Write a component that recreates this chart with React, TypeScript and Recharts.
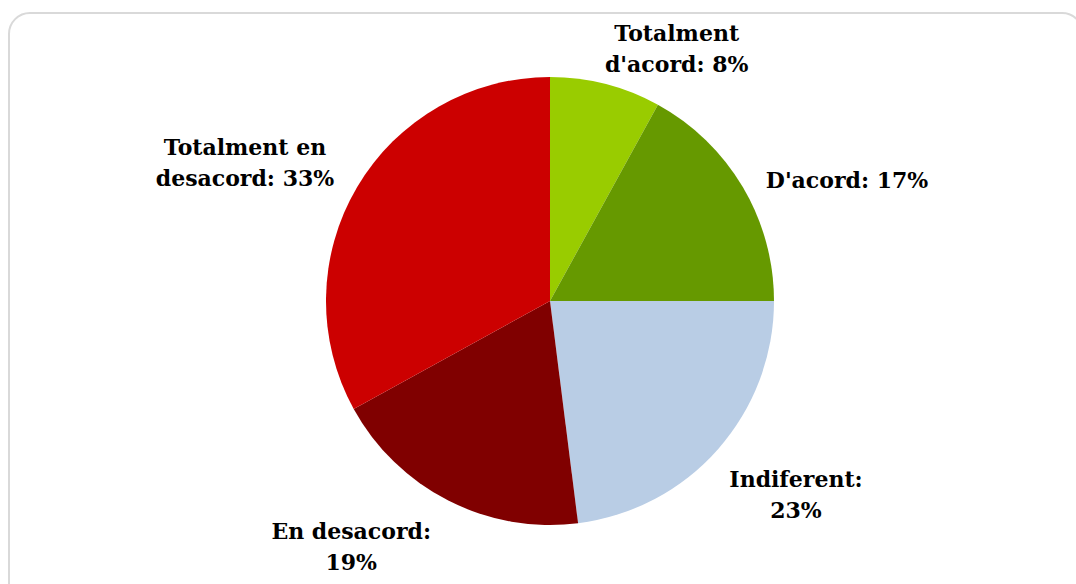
import { PieChart, Pie, Cell } from 'recharts';

const categories = ["Totalment d'acord", "D'acord", 'Indiferent', 'En desacord', 'Totalment en desacord'];
const shares = [8, 17, 23, 19, 33];
const colors = ['#99cc00', '#669900', '#b9cde5', '#800000', '#cc0000'];
const labelLines = [
  ['Totalment', "d'acord: 8%"],
  ["D'acord: 17%"],
  ['Indiferent:', '23%'],
  ['En desacord:', '19%'],
  ['Totalment en', 'desacord: 33%'],
];

const data = categories.map((name, i) => ({ name, value: shares[i] }));

// Excel-style placement: offset of each label block from the point just outside the slice
const LABEL_SHIFT = [
  [66, -16],
  [87, 3],
  [63, 32],
  [-88, 28],
  [-95, -14],
];

const RADIAN = Math.PI / 180;
const LINE_GAP = 31;

function renderLabel(props: any) {
  const { cx, cy, midAngle, outerRadius, index } = props;
  const r = outerRadius + 20;
  const ax = cx + r * Math.cos(-midAngle * RADIAN);
  const ay = cy + r * Math.sin(-midAngle * RADIAN);
  const [dx, dy] = LABEL_SHIFT[index];
  const lines = labelLines[index];
  const top = ay + dy - ((lines.length - 1) * LINE_GAP) / 2;
  return (
    <text
      x={ax + dx}
      y={top}
      textAnchor="middle"
      dominantBaseline="central"
      fill="#000"
      fontFamily="'DejaVu Serif', serif"
      fontWeight="bold"
      fontSize={22}
    >
      {lines.map((line, i) => (
        <tspan key={i} x={ax + dx} y={top + i * LINE_GAP} dominantBaseline="central">
          {line}
        </tspan>
      ))}
    </text>
  );
}

export default function App() {
  return (
    <div style={{ position: 'absolute', left: 0, top: 0, width: 1076, height: 584, overflow: 'hidden', background: '#fff' }}>
      <div
        style={{
          position: 'absolute',
          left: 8,
          top: 12,
          width: 1072,
          height: 620,
          border: '2px solid #d9d9d9',
          borderRadius: 22,
        }}
      />
      <div style={{ position: 'absolute', left: 0, top: 0 }}>
        <PieChart width={1076} height={584} margin={{ top: 0, right: 0, bottom: 0, left: 0 }}>
          <Pie
            data={data}
            dataKey="value"
            nameKey="name"
            cx={550}
            cy={301}
            outerRadius={224}
            startAngle={90}
            endAngle={-270}
            stroke="none"
            label={renderLabel}
            labelLine={false}
            isAnimationActive={false}
          >
            {data.map((d, i) => (
              <Cell key={d.name} fill={colors[i]} />
            ))}
          </Pie>
        </PieChart>
      </div>
    </div>
  );
}
